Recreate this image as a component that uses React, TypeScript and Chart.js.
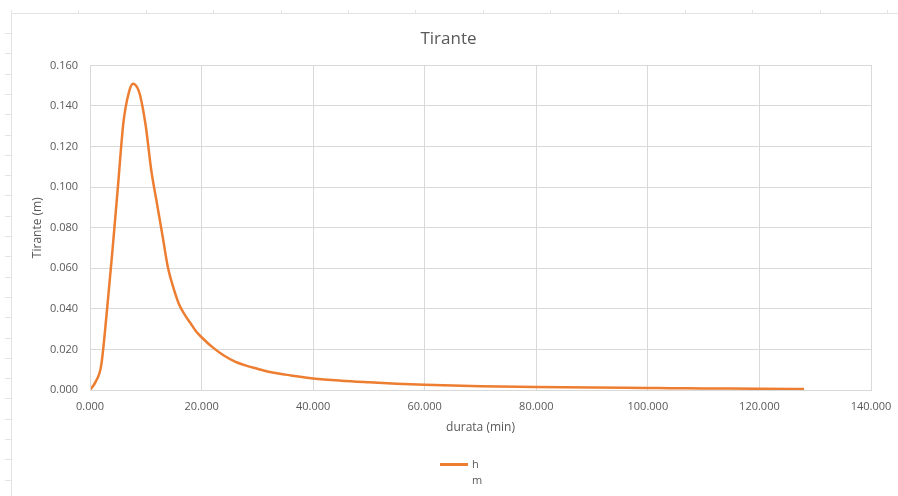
import React, { useEffect, useRef } from "react";
import { Chart, registerables } from "chart.js";

Chart.register(...registerables);

const chartTitle = "Tirante";
const xAxisTitle = "durata (min)";
const yAxisTitle = "Tirante (m)";
const legendLines = ["h", "m"];

const durations = [
  0, 1, 2, 3, 4, 5, 6, 7, 7.7, 8.5, 9, 10, 11, 12, 13, 14, 15, 16, 17, 18, 19, 20,
  22, 24, 26, 28, 30, 32, 34, 36, 38, 40, 45, 50, 55, 60, 65, 70, 80, 90, 100, 104,
  110, 120, 128,
];
const depths = [
  0, 0.004, 0.012, 0.038, 0.068, 0.1, 0.132, 0.147, 0.151, 0.149, 0.145, 0.13, 0.108,
  0.092, 0.076, 0.06, 0.05, 0.042, 0.037, 0.033, 0.029, 0.026, 0.021, 0.017, 0.014,
  0.012, 0.0105, 0.009, 0.008, 0.0072, 0.0064, 0.0057, 0.0046, 0.0038, 0.0031, 0.0026,
  0.0022, 0.0019, 0.0015, 0.0012, 0.001, 0.0009, 0.0008, 0.0006, 0.0005,
];

const xMin = 0;
const xMax = 140;
const xStep = 20;
const yMin = 0;
const yMax = 0.16;
const yStep = 0.02;

const ORANGE = "#ED7D31";
const GRID = "#d9d9d9";
const TEXT = "#595959";
const FONT = "'Open Sans', 'Liberation Sans', sans-serif";

const sheetFrame = {
  id: "sheetFrame",
  beforeDraw(chart: any) {
    const ctx = chart.ctx as CanvasRenderingContext2D;
    ctx.save();
    ctx.fillStyle = "#ffffff";
    ctx.fillRect(0, 0, chart.width, chart.height);
    ctx.strokeStyle = "#e3e3e3";
    ctx.lineWidth = 1;
    ctx.beginPath();
    ctx.moveTo(11, 13.5);
    ctx.lineTo(chart.width, 13.5);
    ctx.moveTo(11.5, 13);
    ctx.lineTo(11.5, chart.height);
    for (let x = 11; x < chart.width; x += 67.4) {
      const px = Math.round(x) + 0.5;
      ctx.moveTo(px, 10);
      ctx.lineTo(px, 13);
    }
    for (let y = 33; y < chart.height; y += 20.3) {
      const py = Math.round(y) + 0.5;
      ctx.moveTo(5, py);
      ctx.lineTo(11, py);
    }
    ctx.stroke();
    ctx.restore();
  },
};

export default function App() {
  const canvasRef = useRef<HTMLCanvasElement | null>(null);

  useEffect(() => {
    if (!canvasRef.current) return;
    const points = durations.map((d, i) => ({ x: d, y: depths[i] }));
    const chart = new Chart(canvasRef.current, {
      type: "line",
      data: {
        datasets: [
          {
            label: legendLines.join(" "),
            data: points,
            borderColor: ORANGE,
            backgroundColor: ORANGE,
            borderWidth: 2.5,
            pointRadius: 0,
            cubicInterpolationMode: "monotone",
            fill: false,
          },
        ],
      },
      options: {
        animation: false,
        responsive: false,
        layout: { padding: { top: 29, left: 26, right: 27, bottom: 57 } },
        plugins: {
          legend: { display: false },
          tooltip: { enabled: false },
          title: {
            display: true,
            text: chartTitle,
            color: TEXT,
            font: { family: FONT, size: 17, weight: "normal" },
            padding: { top: 0, bottom: 16 },
          },
        },
        scales: {
          x: {
            type: "linear",
            min: xMin,
            max: xMax,
            border: { color: GRID },
            grid: { color: GRID, drawTicks: false },
            ticks: {
              stepSize: xStep,
              padding: 10,
              color: TEXT,
              font: { family: FONT, size: 11 },
              maxRotation: 0,
              callback: (v: any) => Number(v).toFixed(3),
            },
            title: {
              display: true,
              text: xAxisTitle,
              color: TEXT,
              font: { family: FONT, size: 12 },
              padding: { top: 4, bottom: 4 },
            },
            afterFit: (scale: any) => {
              scale.height = 49;
              scale.paddingLeft = 0;
              scale.paddingRight = 0;
            },
          },
          y: {
            type: "linear",
            min: yMin,
            max: yMax,
            border: { color: GRID },
            grid: { color: GRID, drawTicks: false },
            ticks: {
              stepSize: yStep,
              padding: 12,
              color: TEXT,
              font: { family: FONT, size: 11 },
              callback: (v: any) => Number(v).toFixed(3),
            },
            title: {
              display: true,
              text: yAxisTitle,
              color: TEXT,
              font: { family: FONT, size: 12 },
              padding: { top: 4, bottom: 4 },
            },
            afterFit: (scale: any) => {
              scale.width = 64;
            },
          },
        },
      },
      plugins: [
        sheetFrame,
        {
          id: "plotBorder",
          afterDraw(c: any) {
            const a = c.chartArea;
            const ctx = c.ctx as CanvasRenderingContext2D;
            ctx.save();
            ctx.strokeStyle = GRID;
            ctx.lineWidth = 1;
            ctx.strokeRect(Math.round(a.left) + 0.5, Math.round(a.top) + 0.5, Math.round(a.right - a.left), Math.round(a.bottom - a.top));
            ctx.restore();
          },
        },
      ],
    } as any);
    return () => chart.destroy();
  }, []);

  return (
    <div style={{ position: "absolute", left: 0, top: 0, width: 898, height: 496, background: "#fff" }}>
      <canvas ref={canvasRef} width={898} height={496} style={{ display: "block" }} />
      <div style={{ position: "absolute", left: 440, top: 456, fontFamily: FONT, fontSize: 11, color: TEXT, lineHeight: "16px" }}>
        <div style={{ display: "flex", alignItems: "center" }}>
          <span style={{ display: "inline-block", width: 28, height: 3, background: ORANGE, marginRight: 4 }} />
          <span>{legendLines[0]}</span>
        </div>
        <div style={{ paddingLeft: 32 }}>{legendLines[1]}</div>
      </div>
    </div>
  );
}
